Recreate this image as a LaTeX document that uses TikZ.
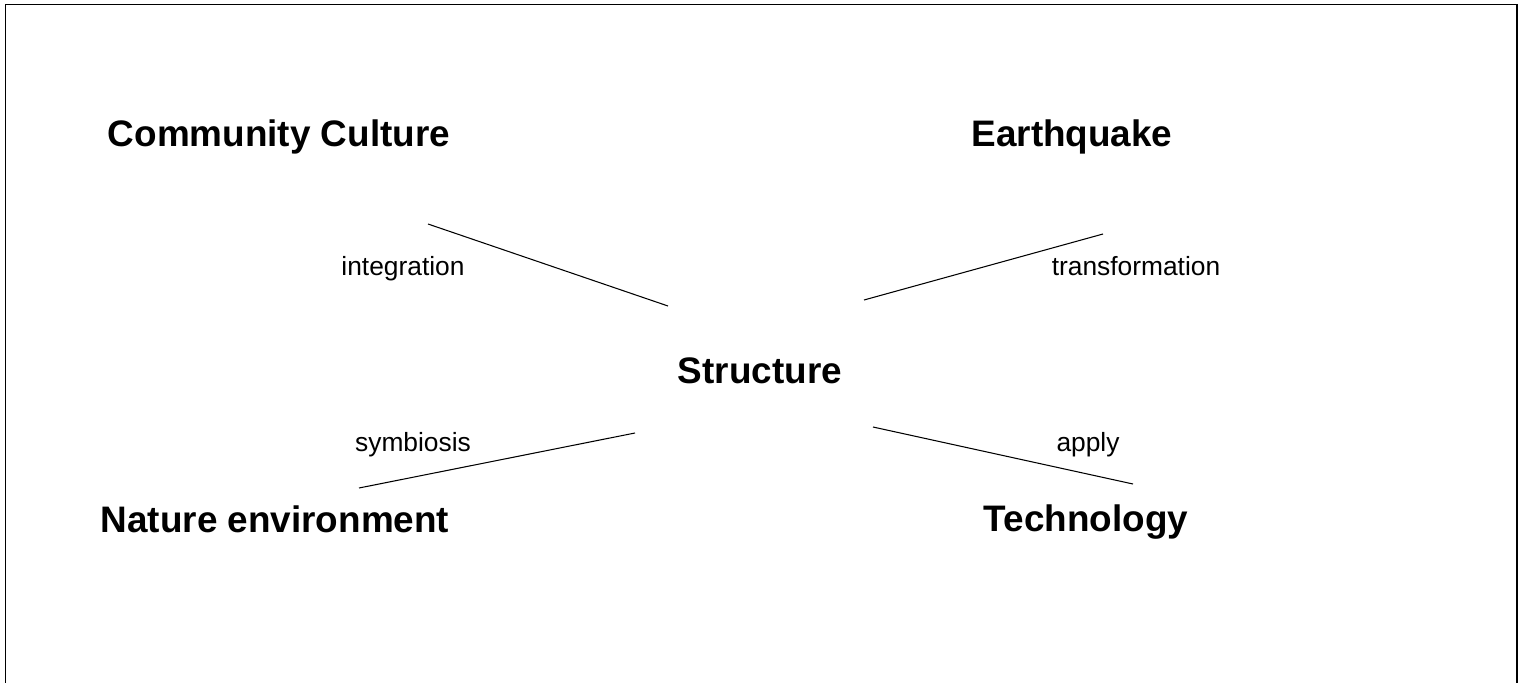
\documentclass[tikz,border=0pt]{standalone}
\usepackage{fontspec}
\setmainfont{Liberation Sans}

\begin{document}
\begin{tikzpicture}[x=0.02cm, y=-0.02cm,
  topic/.style={font=\fontsize{21}{25}\selectfont\bfseries, anchor=base, inner sep=0pt},
  relation/.style={font=\fontsize{15}{18}\selectfont, anchor=base, inner sep=0pt},
  link/.style={line width=0.6pt}]

  \useasboundingbox (0,0) rectangle (1519,683);

  % Open frame: the lower edge runs off the page.
  \draw[line width=0.8pt] (5.5,683) -- (5.5,4.5) -- (1517,4.5) -- (1517,683);

  % The five themes, the structure in the middle.
  \node[topic] (culture) at (279,146) {Community Culture};
  \node[topic] (quake) at (1072,146) {Earthquake};
  \node[topic] (structure) at (760,383) {Structure};
  \node[topic] (nature) at (275,532) {Nature environment};
  \node[topic] (tech) at (1086,531) {Technology};

  % How each theme relates to the structure.
  \node[relation] (integration) at (403,275) {integration};
  \node[relation] (transformation) at (1136,275) {transformation};
  \node[relation] (symbiosis) at (413,451) {symbiosis};
  \node[relation] (apply) at (1088,451) {apply};

  % Free strokes; they stop short of the theme names.
  \coordinate (cultureA) at (428,224);
  \coordinate (cultureB) at (668,306);
  \coordinate (quakeA) at (1103,234);
  \coordinate (quakeB) at (864,300);
  \coordinate (natureA) at (359,488);
  \coordinate (natureB) at (635,433);
  \coordinate (techA) at (1133,484);
  \coordinate (techB) at (873,427);

  \draw[link] (cultureA) -- (cultureB);
  \draw[link] (quakeA) -- (quakeB);
  \draw[link] (natureA) -- (natureB);
  \draw[link] (techA) -- (techB);

\end{tikzpicture}
\end{document}
